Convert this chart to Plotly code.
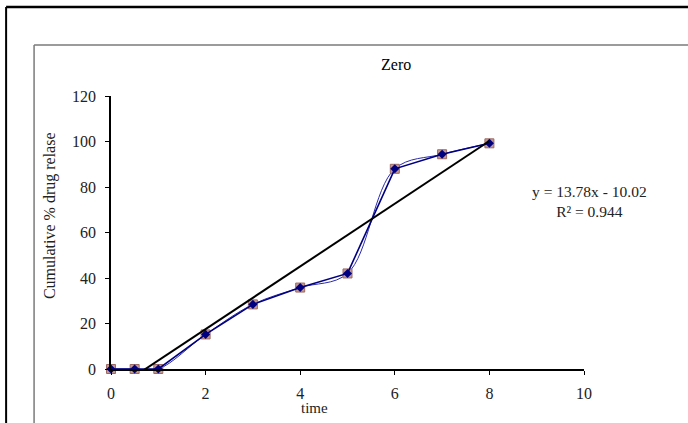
import plotly.graph_objects as go

# Cumulative drug release over time (zero-order model)
time = [0, 0.5, 1, 2, 3, 4, 5, 6, 7, 8]
release = [0, 0, 0, 15.2, 28.4, 35.8, 42.0, 88.0, 94.4, 99.2]

# Linear trendline fitted to the release data
slope = 13.78
intercept = -10.02
r_squared = 0.944
trend_x = [0, 8]
trend_y = [slope * x + intercept for x in trend_x]

x_ticks = [0, 2, 4, 6, 8, 10]
y_ticks = [0, 20, 40, 60, 80, 100, 120]

W, H = 688, 423
L, R, T, B = 111, 103.5, 96, 54
PW, PH = W - L - R, H - T - B


def px(p):
    return (p - L) / PW


def py(p):
    return (H - B - p) / PH


SERIF = "Liberation Serif, Times New Roman, serif"

fig = go.Figure()

# smoothed curve with square markers
fig.add_trace(go.Scatter(
    x=time, y=release, mode="lines+markers",
    line=dict(shape="spline", smoothing=1.0, color="#2b2ba8", width=1),
    marker=dict(symbol="square", size=9, color="#c49a94",
                line=dict(color="#9c6a62", width=1)),
    cliponaxis=False, showlegend=False,
))

# straight segments with navy markers
fig.add_trace(go.Scatter(
    x=time, y=release, mode="lines+markers",
    line=dict(color="#000080", width=1.6),
    marker=dict(symbol="diamond", size=7, color="#000080"),
    cliponaxis=False, showlegend=False,
))

# trendline
fig.add_trace(go.Scatter(
    x=trend_x, y=trend_y, mode="lines",
    line=dict(color="#000000", width=2),
    showlegend=False,
))

axis_common = dict(
    showline=True, linecolor="#000000", linewidth=1.5,
    ticks="outside", ticklen=4, tickcolor="#000000", tickwidth=1,
    showgrid=False, zeroline=False,
    tickfont=dict(family=SERIF, size=16, color="#222222"),
)

fig.update_layout(
    width=W, height=H,
    margin=dict(l=L, r=R, t=T, b=B, pad=0),
    paper_bgcolor="white", plot_bgcolor="white",
    xaxis=dict(range=[0, 10], tickvals=x_ticks, ticklabelstandoff=5, **axis_common),
    yaxis=dict(range=[0, 120], tickvals=y_ticks, ticklabelstandoff=6, **axis_common),
    shapes=[
        # outer frame
        dict(type="line", xref="paper", yref="paper",
             x0=px(6), x1=px(W + 5), y0=py(7), y1=py(7),
             line=dict(color="#000000", width=2.5)),
        dict(type="line", xref="paper", yref="paper",
             x0=px(6), x1=px(6), y0=py(7), y1=py(H + 5),
             line=dict(color="#000000", width=2)),
        # inner chart area frame
        dict(type="line", xref="paper", yref="paper",
             x0=px(34), x1=px(W + 5), y0=py(45), y1=py(45),
             line=dict(color="#7a7a7a", width=1.5)),
        dict(type="line", xref="paper", yref="paper",
             x0=px(34), x1=px(34), y0=py(45), y1=py(H + 5),
             line=dict(color="#7a7a7a", width=1.5)),
    ],
    annotations=[
        dict(text="Zero", xref="paper", yref="paper", x=px(396), y=py(65),
             xanchor="center", yanchor="middle", showarrow=False,
             font=dict(family=SERIF, size=16, color="#000000")),
        dict(text="Cumulative % drug relase", xref="paper", yref="paper",
             x=px(50), y=py(216), xanchor="center", yanchor="middle",
             textangle=-90, showarrow=False,
             font=dict(family=SERIF, size=16, color="#222222")),
        dict(text="time", xref="paper", yref="paper", x=px(315), y=py(408),
             xanchor="center", yanchor="middle", showarrow=False,
             font=dict(family=SERIF, size=15, color="#222222")),
        dict(text=f"y = {slope}x - {abs(intercept):.2f}<br>R² = {r_squared}",
             xref="paper", yref="paper", x=px(590), y=py(201),
             xanchor="center", yanchor="middle",
             showarrow=False, align="center",
             font=dict(family=SERIF, size=15.5, color="#222222")),
    ],
)

fig.write_html("out.html")
